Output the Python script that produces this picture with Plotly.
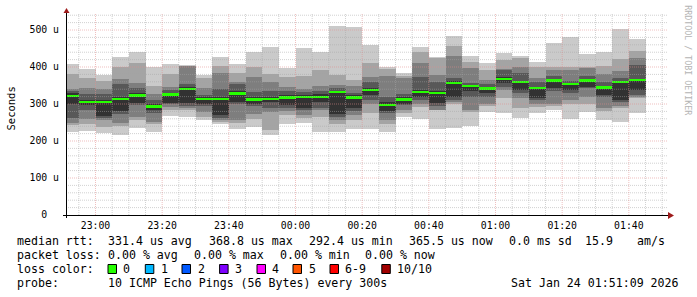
import plotly.graph_objects as go
import pandas as pd

# ---------------- data ----------------
bar_times = pd.date_range("2026-01-23 22:52:30", periods=35, freq="5min")

# sorted ping rtts (us), p1 = fastest ... p10 = slowest
p1 = [225, 228, 221, 216, 234, 225, 267, 266, 257, 245, 232, 239, 216, 245, 249, 225, 225, 232,
      233, 225, 266, 259, 232, 236, 240, 279, 276, 263, 276, 285, 259, 279, 257, 252, 276]
p2 = [243, 246, 237, 240, 257, 245, 285, 285, 266, 252, 250, 259, 230, 270, 262, 265, 245, 258,
      275, 245, 276, 292, 283, 300, 278, 295, 315, 290, 292, 295, 300, 300, 282, 288, 315]
p3 = [250, 260, 257, 248, 266, 252, 293, 290, 279, 258, 257, 273, 278, 280, 270, 285, 258, 270,
      300, 258, 285, 300, 285, 305, 284, 300, 338, 315, 300, 300, 310, 320, 290, 295, 320]
p4 = [262, 285, 262, 273, 296, 276, 300, 295, 294, 262, 300, 294, 290, 290, 285, 290, 265, 282,
      310, 275, 296, 312, 295, 310, 320, 320, 345, 330, 310, 335, 330, 342, 318, 305, 325]
p5 = [300, 296, 268, 282, 304, 284, 304, 304, 300, 270, 306, 300, 305, 297, 290, 305, 272, 290,
      325, 280, 300, 320, 303, 320, 334, 330, 358, 338, 317, 342, 338, 347, 325, 312, 338]
p6 = [330, 310, 310, 318, 330, 300, 329, 345, 318, 320, 334, 318, 318, 325, 325, 326, 336, 325,
      342, 305, 318, 338, 335, 362, 352, 347, 373, 362, 347, 368, 358, 368, 350, 362, 368]
p7 = [334, 327, 327, 354, 342, 310, 338, 354, 325, 340, 355, 333, 336, 334, 332, 335, 343, 330,
      360, 320, 327, 373, 360, 370, 358, 355, 393, 385, 360, 375, 363, 375, 360, 370, 405]
p8 = [340, 342, 340, 367, 358, 327, 347, 402, 342, 383, 360, 374, 360, 345, 340, 350, 352, 350,
      372, 375, 370, 412, 378, 430, 398, 365, 395, 400, 370, 392, 392, 397, 380, 390, 425]
p9 = [381, 369, 362, 399, 410, 350, 381, 404, 369, 403, 383, 400, 381, 372, 375, 392, 378, 365,
      410, 394, 376, 440, 425, 457, 414, 393, 420, 424, 399, 400, 400, 400, 403, 423, 443]
p10 = [408, 395, 378, 426, 441, 400, 408, 406, 378, 426, 407, 440, 454, 397, 451, 440, 510, 507,
       459, 400, 384, 454, 426, 484, 430, 411, 437, 430, 414, 465, 481, 436, 440, 503, 476]
median = [321, 305, 305, 314, 323, 293, 326, 341, 314, 314, 329, 312, 313, 318, 319, 319, 332, 318,
          338, 297, 312, 332, 330, 357, 349, 342, 368, 359, 344, 364, 354, 364, 345, 359, 365]

y_tickvals = [0, 100, 200, 300, 400, 500]
y_ticktext = ["0\u00a0\u00a0", "100 u", "200 u", "300 u", "400 u", "500 u"]

line1 = ["median rtt:", "331.4 us avg", "368.8 us max", "292.4 us min", "365.5 us now",
         "0.0 ms sd", "15.9", "am/s"]
line2 = ["packet loss:", "0.00 % avg", "0.00 % max", "0.00 % min", "0.00 % now"]
loss_labels = ["0", "1", "2", "3", "4", "5", "6-9", "10/10"]
loss_colors = ["#26ff00", "#00b8ff", "#0059ff", "#7e00ff", "#ff00ff", "#ff5500", "#ff0000", "#a10000"]
probe_text = "10 ICMP Echo Pings (56 Bytes) every 300s"
date_text = "Sat Jan 24 01:51:09 2026"
watermark = "RRDTOOL / TOBI OETIKER"

# ---------------- geometry helpers (pixel -> paper) ----------------
L, R, T, B = 66, 666, 13, 215
W, H = 697, 297


def px(x):
    return (x - L) / (R - L)


def py(y):
    return (B - y) / (B - T)


MONO = "DejaVu Sans Mono"
MAJOR_GRID = "rgba(225,140,140,0.55)"
MINOR_GRID = "rgba(165,165,165,0.5)"
fig = go.Figure()

layers = [(p1, p10, "#cacaca"), (p2, p9, "#a4a4a4"), (p3, p8, "#7e7e7e"),
          (p4, p7, "#585858"), (p5, p6, "#323232")]
for lo, hi, col in layers:
    fig.add_trace(go.Bar(x=bar_times, base=lo, y=[h - l for l, h in zip(lo, hi)],
                         width=300000, marker=dict(color=col, line=dict(width=0)),
                         hoverinfo="skip", showlegend=False))

med_thick = 6.6
fig.add_trace(go.Bar(x=bar_times, base=[m - med_thick / 2 for m in median], y=[med_thick] * len(median),
                     width=300000, marker=dict(color=loss_colors[0], line=dict(width=0)),
                     hoverinfo="skip", showlegend=False))

shapes = []
# grid lines (drawn above the smoke, like rrdtool)
for v in range(20, 541, 20):
    major = v % 100 == 0
    shapes.append(dict(type="line", xref="paper", yref="y", x0=0, x1=px(668), y0=v, y1=v, layer="above",
                       line=dict(color=MAJOR_GRID if major else MINOR_GRID, width=1, dash="1px,1px")))
for t in pd.date_range("2026-01-23 22:55", "2026-01-24 01:50", freq="5min"):
    major = t.minute % 20 == 0
    shapes.append(dict(type="line", xref="x", yref="paper", x0=t, x1=t, y0=0, y1=1, layer="above",
                       line=dict(color=MAJOR_GRID if major else MINOR_GRID, width=1, dash="1px,1px")))

# axis lines + arrows
shapes.append(dict(type="line", xref="paper", yref="paper", x0=px(63), x1=px(669), y0=py(215.5), y1=py(215.5),
                   line=dict(color="black", width=1), layer="above"))
shapes.append(dict(type="line", xref="paper", yref="paper", x0=px(66.5), x1=px(66.5), y0=py(218), y1=py(11),
                   line=dict(color="black", width=1), layer="above"))
shapes.append(dict(type="path", xref="paper", yref="paper", layer="above",
                   path=f"M {px(63.5)} {py(13)} L {px(69.5)} {py(13)} L {px(66.5)} {py(8)} Z",
                   fillcolor="#9e1b1b", line=dict(width=0)))
shapes.append(dict(type="path", xref="paper", yref="paper", layer="above",
                   path=f"M {px(668)} {py(212)} L {px(668)} {py(219)} L {px(674)} {py(215.5)} Z",
                   fillcolor="#9e1b1b", line=dict(width=0)))

annotations = []


def txt(x, y, s, size=11.6, anchor="left", color="black", angle=0, family=MONO):
    annotations.append(dict(x=px(x), y=py(y), xref="paper", yref="paper", text=s, showarrow=False,
                            xanchor=anchor, yanchor="middle", textangle=angle,
                            font=dict(family=family, size=size, color=color), borderpad=0))


# legend lines
for x, s in zip([16, 106.7, 207.6, 307.6, 408, 508, 584, 635.6], line1):
    txt(x, 241, s)
for x, s in zip([16, 106.7, 193, 279, 364.4], line2):
    txt(x, 255, s)
txt(16, 269, "loss color:")
box_x = [108, 145.3, 182, 219.6, 257, 293, 330, 381.8]
lab_x = [122.2, 160, 197, 234, 271, 308, 344.4, 395.6]
for bx, lx, lab, col in zip(box_x, lab_x, loss_labels, loss_colors):
    shapes.append(dict(type="rect", xref="paper", yref="paper", x0=px(bx), x1=px(bx + 8.5),
                       y0=py(273.5), y1=py(264.5), fillcolor=col, line=dict(color="black", width=1)))
    txt(lx, 269, lab)
txt(16, 283, "probe:")
txt(106.7, 283, probe_text)
txt(680, 283, date_text, anchor="right")

# y title & watermark
txt(10.5, 109, "Seconds", size=10.5, anchor="center", angle=-90)
txt(687.7, 60, watermark, size=8.3, anchor="center", angle=90, color="#b4b4b4")

fig.update_layout(
    width=W, height=H, margin=dict(l=L, r=W - R, t=T, b=H - B, pad=0),
    paper_bgcolor="white", plot_bgcolor="white",
    barmode="overlay", bargap=0, showlegend=False,
    shapes=shapes, annotations=annotations,
    xaxis=dict(type="date", range=["2026-01-23 22:51:09", "2026-01-24 01:51:09"],
               tickformat="%H:%M", dtick=1200000, tick0="2026-01-23 23:00:00",
               showgrid=False, zeroline=False, showline=False, ticks="", ticklabelstandoff=3,
               tickfont=dict(family=MONO, size=9.8, color="black"), fixedrange=True),
    yaxis=dict(range=[0, 546], tickvals=y_tickvals, ticktext=y_ticktext,
               showgrid=False, zeroline=False, showline=False, ticks="", ticklabelstandoff=6,
               tickfont=dict(family=MONO, size=9.8, color="black"), fixedrange=True),
)

fig.write_html("out.html")
